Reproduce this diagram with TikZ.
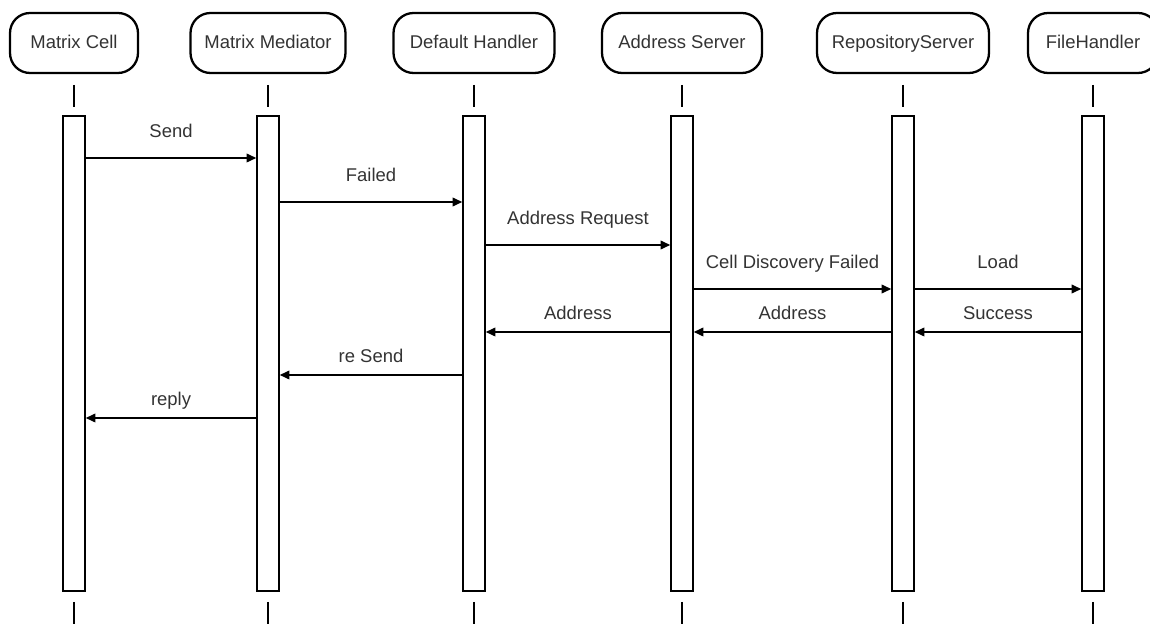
\documentclass[tikz,border=0pt]{standalone}
\usepackage{fontspec}
\setmainfont{Liberation Sans}
\usetikzlibrary{arrows.meta}

\begin{document}
\begin{tikzpicture}[x=0.02cm,y=-0.02cm,
        actor/.style={draw,line width=1.3pt,rounded corners=0.4cm,minimum height=1.2cm,
            text=black!80,font=\fontsize{10.5}{12}\selectfont,text height=1.6ex,text depth=0.4ex},
        bar/.style={draw,line width=0.9pt,minimum width=0.44cm,minimum height=9.5cm,inner sep=0pt},
        tick/.style={line width=1.6pt},
        msg/.style={-{Triangle[length=5.5pt,width=5pt]},line width=0.75pt},
        fwd/.style={midway,yshift=0.52cm,text=black!80,font=\fontsize{10.5}{12}\selectfont,
            text height=1.6ex,text depth=0.4ex},
        ret/.style={fwd,yshift=-0.16cm}]
    \useasboundingbox (0,0) rectangle (1150,624);

    \node[actor,minimum width=2.56cm] (cell) at (74,43) {Matrix Cell};
    \draw[tick] (74,85)--(74,107);
    \node[bar] (cell-bar) at (74,353.5) {};
    \draw[tick] (74,602)--(74,624);

    \node[actor,minimum width=3.1cm] (med) at (268,43) {Matrix Mediator};
    \draw[tick] (268,85)--(268,107);
    \node[bar] (med-bar) at (268,353.5) {};
    \draw[tick] (268,602)--(268,624);

    \node[actor,minimum width=3.22cm] (dflt) at (474,43) {Default Handler};
    \draw[tick] (474,85)--(474,107);
    \node[bar] (dflt-bar) at (474,353.5) {};
    \draw[tick] (474,602)--(474,624);

    \node[actor,minimum width=3.2cm] (addr) at (682,43) {Address Server};
    \draw[tick] (682,85)--(682,107);
    \node[bar] (addr-bar) at (682,353.5) {};
    \draw[tick] (682,602)--(682,624);

    \node[actor,minimum width=3.44cm] (repo) at (903,43) {RepositoryServer};
    \draw[tick] (903,85)--(903,107);
    \node[bar] (repo-bar) at (903,353.5) {};
    \draw[tick] (903,602)--(903,624);

    \node[actor,minimum width=2.6cm] (file) at (1093,43) {FileHandler};
    \draw[tick] (1093,85)--(1093,107);
    \node[bar] (file-bar) at (1093,353.5) {};
    \draw[tick] (1093,602)--(1093,624);

    % messages
    \draw[msg] (cell-bar.east |- 0,158) -- node[fwd]{Send} (med-bar.west |- 0,158);
    \draw[msg] (med-bar.east |- 0,202) -- node[fwd]{Failed} (dflt-bar.west |- 0,202);
    \draw[msg] (dflt-bar.east |- 0,245) -- node[fwd]{Address Request} (addr-bar.west |- 0,245);
    \draw[msg] (addr-bar.east |- 0,289) -- node[fwd]{Cell Discovery Failed} (repo-bar.west |- 0,289);
    \draw[msg] (repo-bar.east |- 0,289) -- node[fwd]{Load} (file-bar.west |- 0,289);

    % replies
    \draw[msg] (file-bar.west |- 0,332) -- node[ret]{Success} (repo-bar.east |- 0,332);
    \draw[msg] (repo-bar.west |- 0,332) -- node[ret]{Address} (addr-bar.east |- 0,332);
    \draw[msg] (addr-bar.west |- 0,332) -- node[ret]{Address} (dflt-bar.east |- 0,332);
    \draw[msg] (dflt-bar.west |- 0,375) -- node[ret]{re Send} (med-bar.east |- 0,375);
    \draw[msg] (med-bar.west |- 0,418) -- node[ret]{reply} (cell-bar.east |- 0,418);
\end{tikzpicture}
\end{document}
